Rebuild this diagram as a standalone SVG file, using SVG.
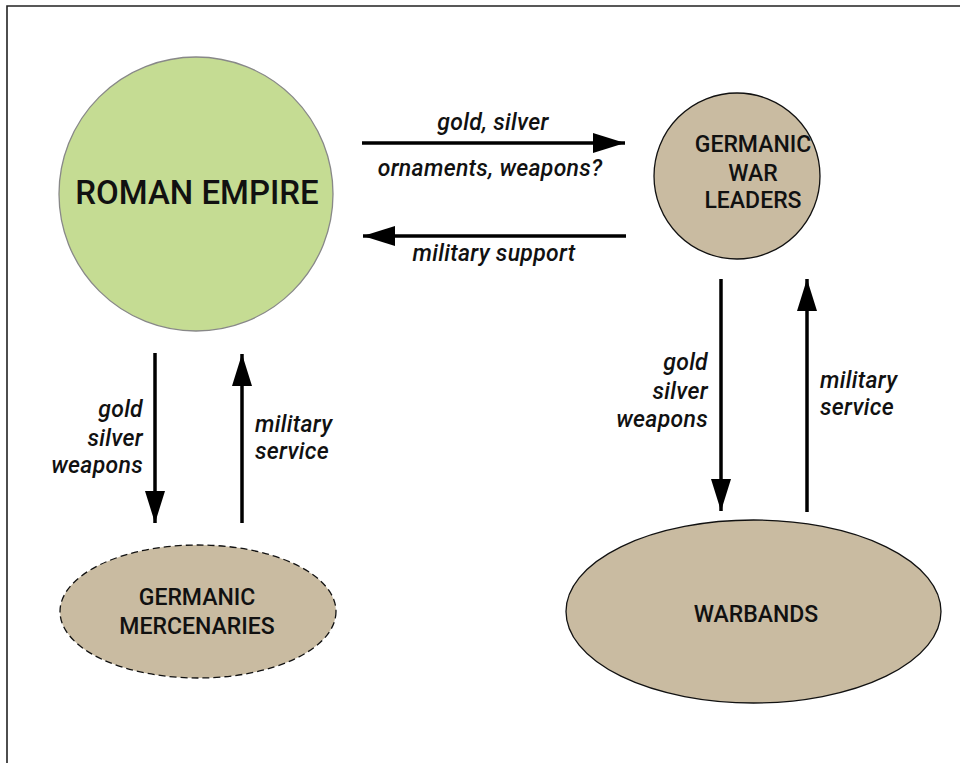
<svg xmlns="http://www.w3.org/2000/svg" width="960" height="763" viewBox="0 0 960 763">
<defs>
<style>
.node{font-family:Roboto,"DejaVu Sans",sans-serif;font-weight:500;fill:#111;text-anchor:middle}
.lbl{font-family:Roboto,"DejaVu Sans",sans-serif;font-style:italic;font-weight:500;font-size:23px;letter-spacing:0.3px;fill:#111}
.conn{stroke:#000;stroke-width:3.5;fill:none;marker-end:url(#ah)}
.tan{fill:#c9bba1;stroke:#111;stroke-width:1.3}
</style>
<marker id="ah" markerUnits="userSpaceOnUse" markerWidth="32" markerHeight="20" refX="32" refY="10" orient="auto">
<path d="M0,0 L32,10 L0,20 Z" fill="#000"/>
</marker>
</defs>
<rect width="960" height="763" fill="#fff"/>
<path d="M7,763 V6 H960" fill="none" stroke="#222" stroke-width="1.6"/>

<g id="roman-empire">
<circle cx="196" cy="194" r="137" fill="#c5dc93" stroke="#888" stroke-width="1.3"/>
<text class="node" x="197" y="204" font-size="33">ROMAN EMPIRE</text>
</g>
<g id="war-leaders">
<circle class="tan" cx="737" cy="176" r="83"/>
<text class="node" x="753" y="152" font-size="23">GERMANIC</text>
<text class="node" x="753" y="181" font-size="23">WAR</text>
<text class="node" x="753" y="208" font-size="23">LEADERS</text>
</g>
<g id="mercenaries">
<ellipse class="tan" cx="198" cy="611.5" rx="138" ry="66.5" stroke-dasharray="7,4"/>
<text class="node" x="197" y="605" font-size="23">GERMANIC</text>
<text class="node" x="197" y="634" font-size="23">MERCENARIES</text>
</g>
<g id="warbands">
<ellipse class="tan" cx="753.5" cy="611.5" rx="187.5" ry="91.5"/>
<text class="node" x="756" y="622" font-size="23">WARBANDS</text>
</g>

<g id="connectors">
<line class="conn" x1="362" y1="143" x2="625" y2="143"/>
<line class="conn" x1="626" y1="236" x2="363" y2="236"/>
<line class="conn" x1="155" y1="353" x2="155" y2="523"/>
<line class="conn" x1="242" y1="523" x2="242" y2="354"/>
<line class="conn" x1="721" y1="279" x2="721" y2="511"/>
<line class="conn" x1="807" y1="512" x2="807" y2="279"/>
</g>

<g id="labels">
<text class="lbl" x="493" y="130" text-anchor="middle">gold, silver</text>
<text class="lbl" x="490" y="176" text-anchor="middle">ornaments, weapons?</text>
<text class="lbl" x="494" y="261" text-anchor="middle">military support</text>
<text class="lbl" x="143" y="417" text-anchor="end">gold</text>
<text class="lbl" x="143" y="446" text-anchor="end">silver</text>
<text class="lbl" x="143" y="473" text-anchor="end">weapons</text>
<text class="lbl" x="255" y="432">military</text>
<text class="lbl" x="255" y="459">service</text>
<text class="lbl" x="708" y="370" text-anchor="end">gold</text>
<text class="lbl" x="708" y="399" text-anchor="end">silver</text>
<text class="lbl" x="708" y="427" text-anchor="end">weapons</text>
<text class="lbl" x="820" y="388">military</text>
<text class="lbl" x="820" y="415">service</text>
</g>
</svg>
